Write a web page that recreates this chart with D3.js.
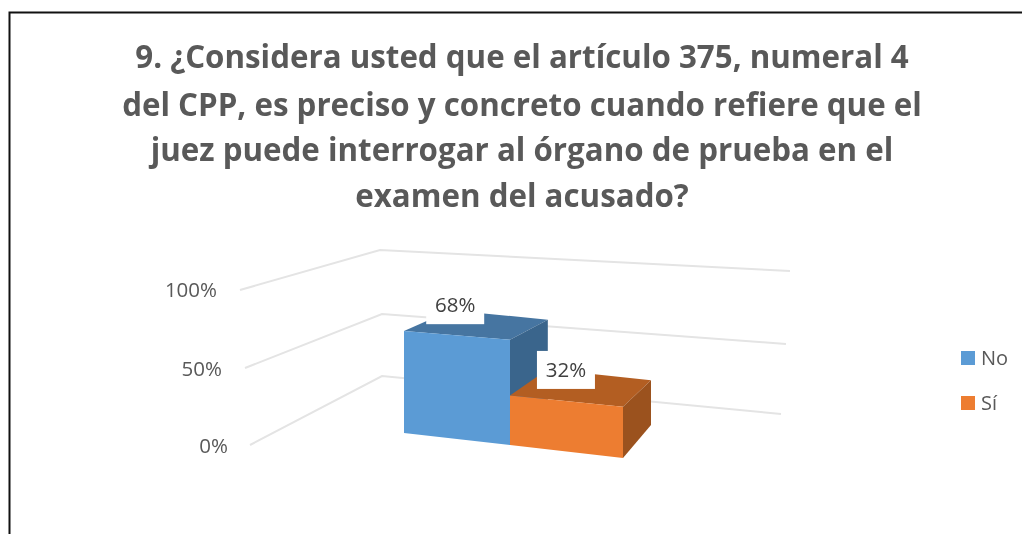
<!DOCTYPE html>
<html><head><meta charset="utf-8">
<script src="https://cdn.jsdelivr.net/npm/d3@7/dist/d3.min.js"></script>
<style>html,body{margin:0;padding:0;background:#fff;overflow:hidden}svg{display:block;filter:blur(0.4px)}text{font-family:"Open Sans",sans-serif}</style>
</head><body><svg id="c" width="1022" height="534"></svg>
<script>
const titleLines = ["9. ¿Considera usted que el artículo 375, numeral 4","del CPP, es preciso y concreto cuando refiere que el","juez puede interrogar al órgano de prueba en el","examen del acusado?"];
const categories = ["No","Sí"];
const values = [0.68,0.32];
const ticks = [0,0.5,1];
const colors = {No:{front:"#5B9BD5",top:"#4675A1",side:"#3A658C"},"Sí":{front:"#ED7D31",top:"#B35E22",side:"#9B521E"}};

const svg = d3.select("#c");
const lerp = (a,b,t)=>a+(b-a)*t;

// frame
svg.append("path").attr("d","M1022,12.5H9.5V534").attr("fill","none").attr("stroke","#111").attr("stroke-width",2);

// title
svg.append("g").selectAll("text").data(titleLines).join("text")
  .attr("x",522).attr("y",(d,i)=>[68,116,161,207][i]).attr("text-anchor","middle")
  .attr("font-size",31.3).attr("font-weight",700).attr("fill","#595959").text(d=>d);

// walls
const wall = {
  leftX:d3.scaleLinear().domain(ticks).range([250,245,240]),
  leftY:d3.scaleLinear().domain(ticks).range([445,368,290]),
  cornerX:d3.scaleLinear().domain(ticks).range([382,382,380]),
  cornerY:d3.scaleLinear().domain(ticks).range([376,314,250]),
  rightX:d3.scaleLinear().domain(ticks).range([781,786,790]),
  rightY:d3.scaleLinear().domain(ticks).range([414,344,271])
};
const gridLine = d3.line();
svg.append("g").selectAll("path").data(ticks).join("path")
  .attr("d",v=>gridLine([[wall.leftX(v),wall.leftY(v)],[wall.cornerX(v),wall.cornerY(v)],[wall.rightX(v),wall.rightY(v)]]))
  .attr("fill","none").attr("stroke","#e4e4e4").attr("stroke-width",2);

const fmt = d3.format(".0%");
const labelEnd = d3.scaleLinear().domain(ticks).range([228,222,217]);
const labelY = d3.scaleLinear().domain(ticks).range([446,369,290]);
svg.append("g").selectAll("text").data(ticks).join("text")
  .attr("x",v=>labelEnd(v)).attr("y",v=>labelY(v)).attr("dy","0.35em").attr("text-anchor","end")
  .attr("font-size",20.5).attr("fill","#595959").text(v=>fmt(v));

// floor footprint + height per unit
const Q = {fl:[404,433,150],fr:[623,458,160],bl:[451,402,135],br:[651,425,140]};
function proj(u,d,v){
  const c = i=>lerp(lerp(Q.fl[i],Q.fr[i],u),lerp(Q.bl[i],Q.br[i],u),d);
  return [c(0),c(1)-c(2)*v];
}
const band = d3.scaleBand().domain(categories).range([0,1]);
const persp = d3.scaleLinear().domain([0,0.5,1]).range([0,0.484,1]);
const poly = d3.line().curve(d3.curveLinearClosed);

const bars = svg.append("g").selectAll("g").data(categories).join("g");
bars.each(function(cat,i){
  const g = d3.select(this), v = values[i], col = colors[cat];
  const u0 = persp(band(cat)), u1 = persp(band(cat)+band.bandwidth());
  g.append("path").attr("fill",col.top).attr("d",poly([proj(u0,0,v),proj(u1,0,v),proj(u1,1,v),proj(u0,1,v)]));
  g.append("path").attr("fill",col.side).attr("d",poly([proj(u1,0,v),proj(u1,1,v),proj(u1,1,0),proj(u1,0,0)]));
  g.append("path").attr("fill",col.front).attr("d",poly([proj(u0,0,v),proj(u1,0,v),proj(u1,0,0),proj(u0,0,0)]));
});

// data labels
const labelBoxes = svg.append("g").selectAll("g").data(categories).join("g");
labelBoxes.each(function(cat,i){
  const g = d3.select(this), v = values[i];
  const u = persp(band(cat)+band.bandwidth()/2);
  const p = proj(u,0.5,v);
  const cx = p[0]+[-23,-17][i], cy = p[1]-[20,18][i];
  g.append("rect").attr("x",cx-29).attr("y",cy-19).attr("width",58).attr("height",38).attr("fill","#fff");
  g.append("text").attr("x",cx).attr("y",cy).attr("dy","0.35em").attr("text-anchor","middle")
   .attr("font-size",20.5).attr("fill","#404040").text(fmt(v));
});

// legend
const legendY = d3.scalePoint().domain(categories).range([358,403]);
const leg = svg.append("g").selectAll("g").data(categories).join("g");
leg.append("rect").attr("x",961).attr("y",c=>legendY(c)-7).attr("width",14).attr("height",14).attr("fill",c=>colors[c].front);
leg.append("text").attr("x",981).attr("y",c=>legendY(c)).attr("dy","0.35em").attr("font-size",20).attr("fill","#595959").text(c=>c);
</script></body></html>
